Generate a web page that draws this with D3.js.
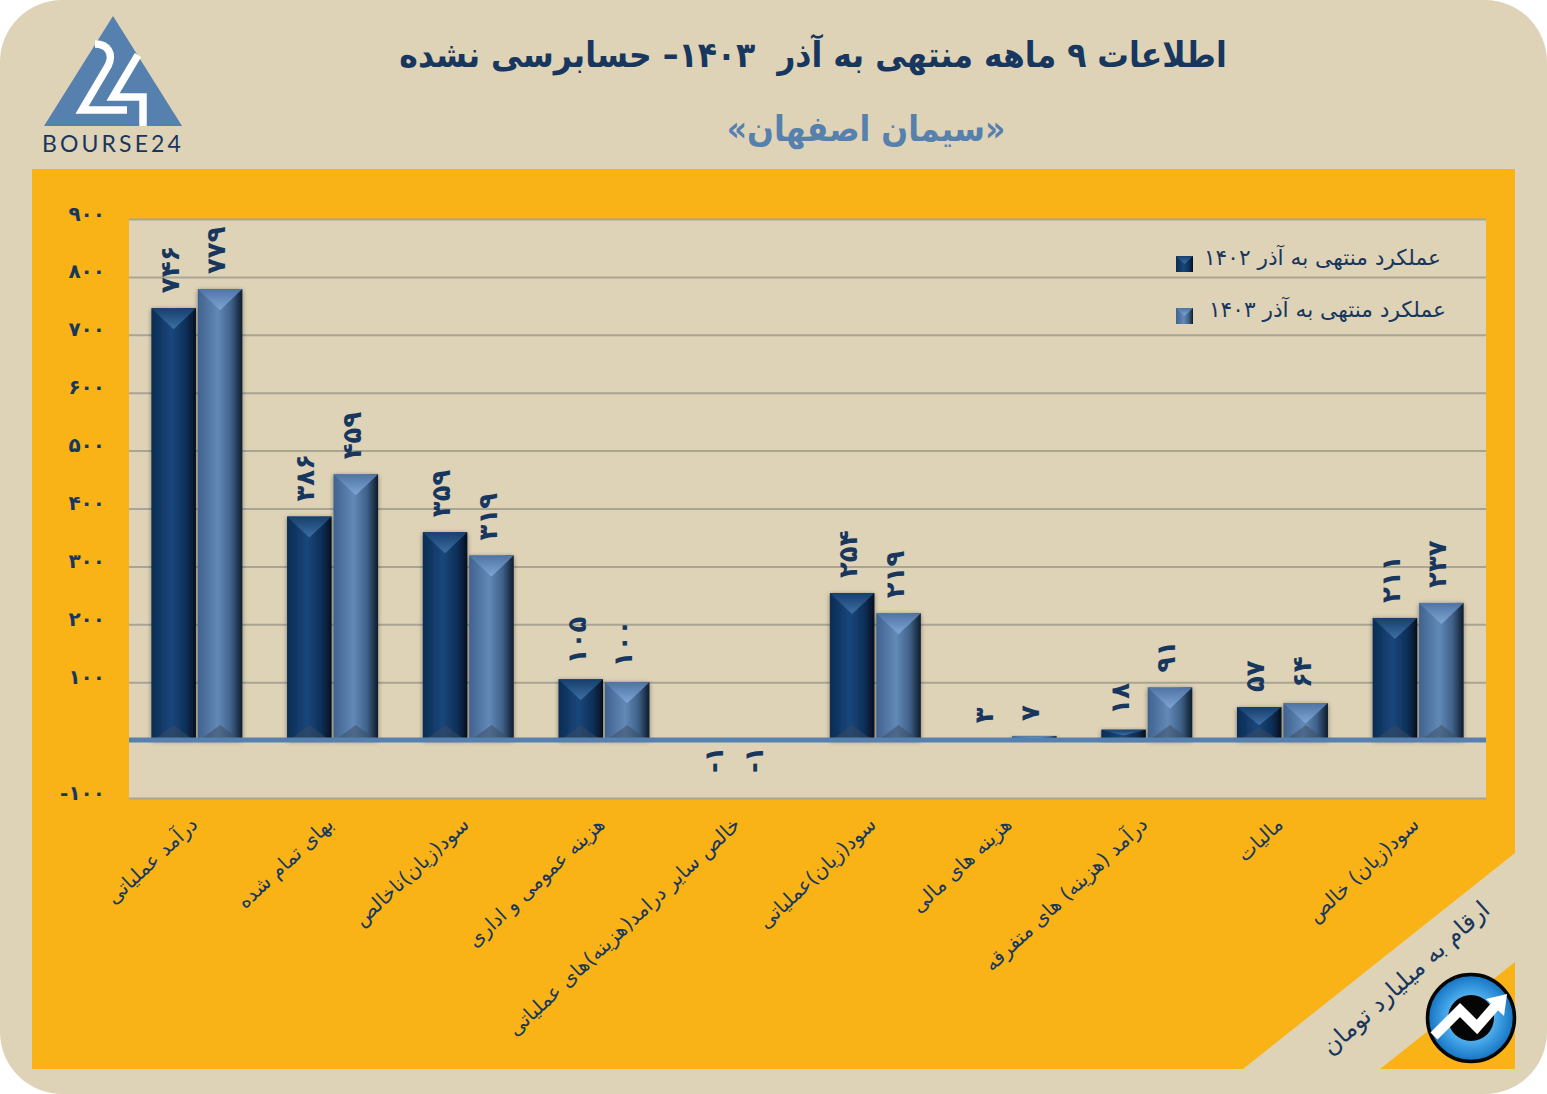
<!DOCTYPE html>
<html lang="fa"><head><meta charset="utf-8">
<script src="https://cdn.jsdelivr.net/npm/d3@7/dist/d3.min.js"></script>
<style>html,body{margin:0;padding:0;background:#fff;overflow:hidden}svg{display:block}
text{font-family:"DejaVu Sans",sans-serif}</style></head><body>
<svg id="c" width="1547" height="1094"></svg>
<script>
const categories=["درآمد عملیاتی","بهای تمام شده","سود(زیان)ناخالص","هزینه عمومی و اداری","خالص سایر درامد(هزینه)های عملیاتی","سود(زیان)عملیاتی","هزینه های مالی","درآمد (هزینه) های متفرقه","مالیات","سود(زیان) خالص"];
const values1402=[746,386,359,105,-1,254,3,18,57,211];
const values1403=[779,459,319,100,-1,219,7,91,64,237];
const yTicks=[-100,100,200,300,400,500,600,700,800,900];
const gridTicks=[-100,0,100,200,300,400,500,600,700,800,900];
const seriesNames=["عملکرد منتهی به آذر ۱۴۰۲","عملکرد منتهی به آذر ۱۴۰۳"];
const titleText="اطلاعات ۹ ماهه منتهی به آذر  ۱۴۰۳– حسابرسی نشده";
const subtitleText="«سیمان اصفهان»";
const noteText="ارقام به میلیارد تومان";
const brandText="BOURSE24";

const NAVY="#17375e",STEEL="#5680ae",BEIGE="#dfd3b7",ORANGE="#f9b317",GRID="#a9a592";
const fa=v=>String(v).replace(/\d/g,d=>"۰۱۲۳۴۵۶۷۸۹"[+d]);
const svg=d3.select("#c"),defs=svg.append("defs");
function hGrad(id,st){const g=defs.append("linearGradient").attr("id",id);st.forEach(s=>g.append("stop").attr("offset",s[0]).attr("stop-color",s[1]));}
function vGrad(id,st){const g=defs.append("linearGradient").attr("id",id).attr("x1",0).attr("x2",0).attr("y1",0).attr("y2",1);st.forEach(s=>g.append("stop").attr("offset",s[0]).attr("stop-color",s[1]));}
hGrad("b0",[[0,"#0c2c52"],[.45,"#17477c"],[.78,"#0e2f57"],[1,"#040f1e"]]);
hGrad("b1",[[0,"#40628f"],[.45,"#6289b7"],[.75,"#3f6189"],[1,"#0e1b2c"]]);
vGrad("t0",[[0,"#153f6e"],[1,"#3f6fa3"]]);
vGrad("t1",[[0,"#4f74a4"],[1,"#7fa6d6"]]);
const shadow=defs.append("filter").attr("id","sh").attr("x","-20%").attr("y","-20%").attr("width","140%").attr("height","140%");
shadow.append("feDropShadow").attr("dx",0).attr("dy",1).attr("stdDeviation",2.5).attr("flood-color","#000").attr("flood-opacity",.4);
const rg=defs.append("radialGradient").attr("id","badge");
[[0,"#a8dcfb"],[.6,"#45a5e8"],[1,"#1272c0"]].forEach(s=>rg.append("stop").attr("offset",s[0]).attr("stop-color",s[1]));

// frame
svg.append("rect").attr("x",0).attr("y",0).attr("width",1547).attr("height",1094).attr("rx",62).attr("fill",BEIGE);
svg.append("path").attr("fill",ORANGE).attr("d","M32,169H1515V853L1243,1069H32Z");
svg.append("path").attr("fill",ORANGE).attr("d","M1515,962V1069H1380Z");

// plot
const L=129,R=1486,T=219,B=798;
svg.append("rect").attr("x",L).attr("y",T).attr("width",R-L).attr("height",B-T).attr("fill",BEIGE);
const y=d3.scaleLinear().domain([-100,900]).range([B,T]);
const x0=d3.scaleBand().domain(categories).range([L,R]);
const x1=d3.scaleBand().domain([0,1]).range([-45.5,45.5]).paddingInner(.04);

svg.append("g").attr("transform",`translate(${L},0)`)
  .call(d3.axisLeft(y).tickValues(gridTicks).tickSize(-(R-L)).tickFormat(""))
  .call(g=>g.select(".domain").remove())
  .call(g=>g.selectAll("line").attr("stroke",GRID).attr("stroke-width",2));
svg.append("g").attr("transform","translate(105,2)")
  .call(d3.axisLeft(y).tickValues(yTicks).tickSize(0).tickPadding(0).tickFormat(v=>fa(v)))
  .call(g=>g.select(".domain").remove())
  .call(g=>g.selectAll("text").attr("fill",NAVY).attr("font-size",20).attr("font-weight",700)
    .attr("font-family",'"DejaVu Sans",sans-serif').attr("dy","-.05em").attr("direction","ltr"));

const rows=[];
categories.forEach((c,i)=>{[values1402[i],values1403[i]].forEach((v,s)=>rows.push({c,v,s}));});
const bw=x1.bandwidth();
const bars=svg.append("g").selectAll("g").data(rows).join("g")
  .attr("transform",d=>`translate(${x0(d.c)+x0.bandwidth()/2+x1(d.s)},${y(Math.max(d.v,0))})`);
const hOf=d=>Math.abs(y(d.v)-y(0));
bars.append("rect").attr("width",bw).attr("height",hOf).attr("fill",d=>`url(#b${d.s})`).attr("filter","url(#sh)");
bars.append("path").attr("fill",d=>`url(#t${d.s})`)
  .attr("d",d=>{const h=Math.min(21,hOf(d)*.55);return `M0,0H${bw}L${bw/2},${h}Z`;});
bars.append("path").attr("fill","#3a4a60").attr("opacity",.5)
  .attr("d",d=>{const H=hOf(d),h=Math.min(15,H*.4);return `M2,${H}H${bw-2}L${bw/2},${H-h}Z`;});

svg.append("line").attr("x1",L).attr("x2",R).attr("y1",y(0)).attr("y2",y(0)).attr("stroke",STEEL).attr("stroke-width",5);

// data labels
svg.append("g").selectAll("text").data(rows).join("text")
  .attr("transform",d=>{
    const cx=x0(d.c)+x0.bandwidth()/2+x1(d.s)+bw/2;
    return d.v<0?`translate(${cx+(d.s?-9:-3)},${y(0)+33}) rotate(-90)`:`translate(${cx-4},${y(d.v)-15}) rotate(-90)`;})
  .attr("fill",NAVY).attr("font-size",26).attr("font-weight",700).attr("direction","ltr").attr("dy",".35em")
  .text(d=>d.v<0?"-"+fa(-d.v):fa(d.v));

// category labels
svg.append("g").selectAll("text").data(categories).join("text")
  .attr("transform",c=>`translate(${x0(c)+x0.bandwidth()/2+2},826) rotate(-43)`)
  .attr("direction","rtl").attr("text-anchor","start").attr("fill",NAVY).attr("font-size",20).text(c=>c);

// titles
svg.append("text").attr("x",813).attr("y",67).style("font-family",'"DejaVu Sans Condensed","DejaVu Sans",sans-serif').attr("text-anchor","middle").attr("direction","rtl")
  .attr("fill",NAVY).attr("font-size",35).attr("font-weight",700).style("white-space","pre").text(titleText);
svg.append("text").attr("x",866).attr("y",141).style("font-family",'"DejaVu Sans Condensed","DejaVu Sans",sans-serif').attr("text-anchor","middle").attr("direction","rtl")
  .attr("fill",STEEL).attr("font-size",35).attr("font-weight",700).text(subtitleText);

// legend
const legendY=[264,316],legendX=[1441,1446];
const lg=svg.append("g").selectAll("g").data(seriesNames).join("g");
lg.append("rect").attr("x",1176).attr("y",(d,i)=>legendY[i]-8).attr("width",17).attr("height",16).attr("fill",(d,i)=>`url(#b${i})`);
lg.append("path").attr("fill",(d,i)=>`url(#t${i})`).attr("d",(d,i)=>`M1176,${legendY[i]-8}h17l-8.5,8Z`);
lg.append("text").attr("x",(d,i)=>legendX[i]).attr("y",(d,i)=>legendY[i]+1).attr("text-anchor","start").attr("direction","rtl")
  .attr("fill",NAVY).attr("font-size",21.7).text(d=>d);

// note
svg.append("text").attr("transform","translate(1411,984) rotate(-42)").attr("text-anchor","middle").attr("direction","rtl")
  .attr("fill",NAVY).attr("font-size",24).text(noteText);

// brand logo
svg.append("path").attr("fill",STEEL).attr("d","M113,16L182,126H44Z");
svg.append("path").attr("fill","none").attr("stroke","#fff").attr("stroke-width",7.5).attr("d","M95,44C108,44 114,54 108,66L82,110H127");
svg.append("path").attr("fill","none").attr("stroke","#fff").attr("stroke-width",7.5).attr("d","M138,55L113,97H143V126");
svg.append("text").attr("x",113).attr("y",152).attr("text-anchor","middle").attr("fill",NAVY)
  .style("font-family","Lato,sans-serif").attr("font-size",23).attr("font-weight",400).attr("letter-spacing",3.1).text(brandText);

// badge
svg.append("circle").attr("cx",1471).attr("cy",1018).attr("r",43.5).attr("fill","url(#badge)").attr("stroke","#050505").attr("stroke-width",3.5);
svg.append("circle").attr("cx",1471).attr("cy",1018).attr("r",23).attr("fill","#050505");
svg.append("path").attr("fill","none").attr("stroke","#fff").attr("stroke-width",10).attr("d","M1434,1036L1460,1010L1477,1027L1497,1004");
svg.append("path").attr("fill","#fff").attr("d","M1507,994L1486,999L1504,1016Z");
</script></body></html>
